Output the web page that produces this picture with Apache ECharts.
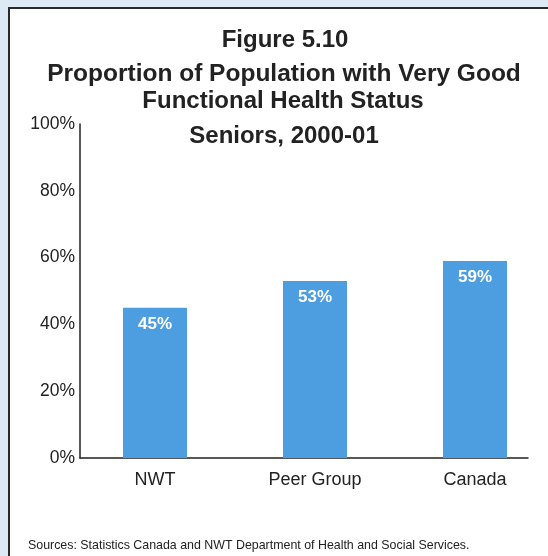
<!DOCTYPE html>
<html><head><meta charset="utf-8">
<script src="https://cdn.jsdelivr.net/npm/echarts@6/dist/echarts.min.js"></script>
<style>html,body{margin:0;padding:0;background:#dde9f5;}#c{width:548px;height:556px;}</style>
</head><body><div id="c"></div>
<script>
const categories = ['NWT', 'Peer Group', 'Canada'];
const values = [45, 53, 59];
const yTicks = [0, 20, 40, 60, 80, 100];
const titleLines = ['Figure 5.10', 'Proportion of Population with Very Good', 'Functional Health Status'];
const subtitle = 'Seniors, 2000-01';
const source = 'Sources: Statistics Canada and NWT Department of Health and Social Services.';

const FONT = '"Liberation Sans", Arial, Helvetica, sans-serif';
const tStyle = (fs) => ({ fontFamily: FONT, fontSize: fs, lineHeight: fs, fontWeight: 'bold', color: '#222' });
const chart = echarts.init(document.getElementById('c'));
chart.setOption({
  backgroundColor: '#dde9f5',
  animation: false,
  graphic: [{
    type: 'rect', z: -100, silent: true,
    shape: { x: 9, y: 8, width: 600, height: 600 },
    style: { fill: '#ffffff', stroke: '#2a2a2a', lineWidth: 2 }
  }],
  title: [
    { text: titleLines[0], left: 285, top: 28, padding: 0, textAlign: 'center', textStyle: tStyle(24) },
    { text: titleLines[1], left: 284, top: 62, padding: 0, textAlign: 'center', textStyle: tStyle(24.5) },
    { text: titleLines[2], left: 283, top: 89, padding: 0, textAlign: 'center', textStyle: tStyle(24) },
    { text: subtitle, left: 284, top: 124, padding: 0, textAlign: 'center', textStyle: tStyle(24) },
    { text: source, left: 28, top: 540, padding: 0,
      textStyle: { fontFamily: FONT, fontSize: 12.4, fontWeight: 'normal', color: '#222' } }
  ],
  grid: [
    { left: 80, right: 20, top: 124, bottom: 98 },
    { left: 155, right: 73, top: 124, bottom: 98 }
  ],
  xAxis: [
    { type: 'category', gridIndex: 0, data: categories,
      axisLine: { show: true, lineStyle: { color: '#222', width: 1.5 } },
      axisTick: { show: false }, axisLabel: { show: false } },
    { type: 'category', gridIndex: 1, data: categories, boundaryGap: false,
      axisLine: { show: false }, axisTick: { show: false },
      axisLabel: { margin: 13, fontFamily: FONT, fontSize: 18, color: '#222' } }
  ],
  yAxis: [
    { type: 'value', gridIndex: 0, min: yTicks[0], max: yTicks[yTicks.length - 1], interval: 20,
      axisLine: { show: true, lineStyle: { color: '#222', width: 1.5 } },
      axisTick: { show: false }, splitLine: { show: false },
      axisLabel: { formatter: '{value}%', margin: 5, fontFamily: FONT, fontSize: 17.5, color: '#222' } },
    { type: 'value', gridIndex: 1, min: 0, max: 100, show: false, splitLine: { show: false } }
  ],
  series: [{
    type: 'bar', xAxisIndex: 1, yAxisIndex: 1, data: values, barWidth: 64,
    itemStyle: { color: '#4c9ee1' },
    label: { show: true, position: 'insideTop', distance: 8, formatter: '{c}%',
      fontFamily: FONT, fontSize: 17, fontWeight: 'bold', color: '#ffffff' }
  }]
});
</script></body></html>
